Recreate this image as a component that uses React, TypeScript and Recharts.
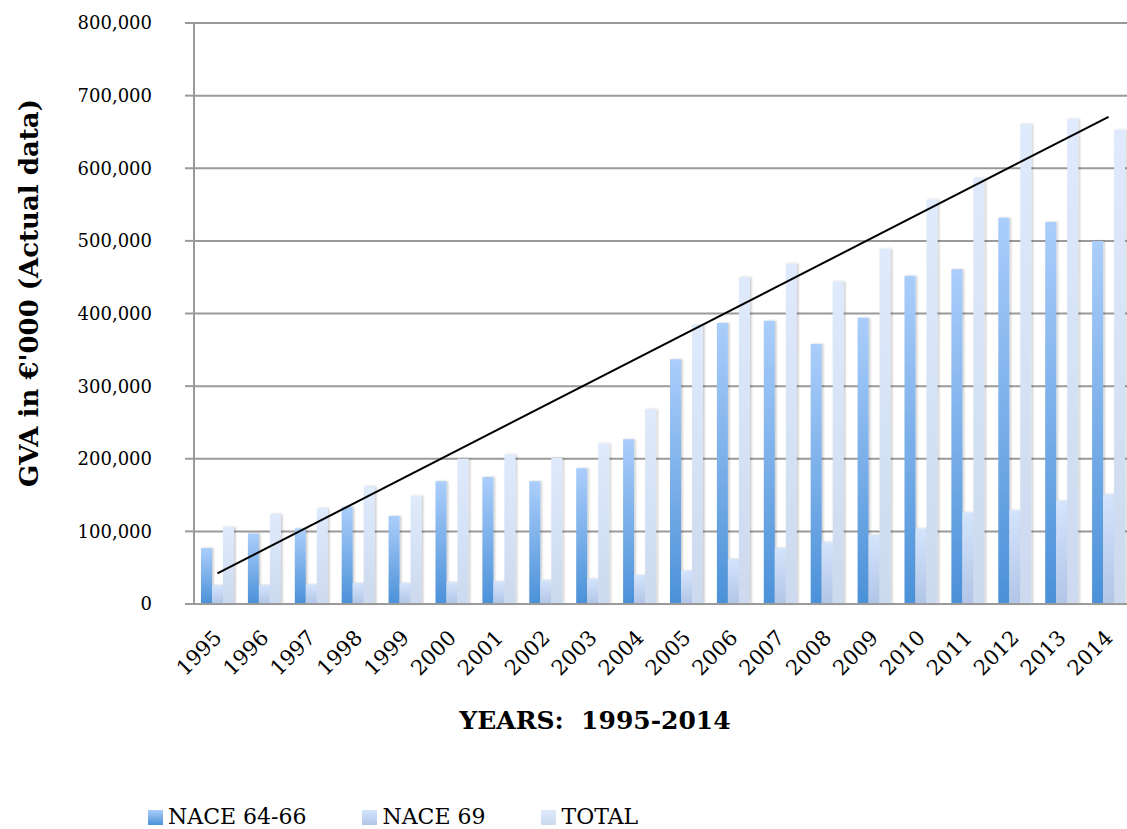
import { Bar, CartesianGrid, ComposedChart, Line, XAxis, YAxis } from "recharts";

const years = [
  "1995", "1996", "1997", "1998", "1999", "2000", "2001", "2002", "2003", "2004",
  "2005", "2006", "2007", "2008", "2009", "2010", "2011", "2012", "2013", "2014",
];

// GVA in €'000
const nace6466 = [
  77000, 97000, 104000, 134000, 121000, 169000, 175000, 169000, 187000, 227000,
  337000, 387000, 390000, 358000, 394000, 452000, 461000, 532000, 526000, 500000,
];
const nace69 = [
  26000, 26000, 27000, 29000, 29000, 30000, 31000, 33000, 35000, 40000,
  46000, 62000, 77000, 85000, 95000, 104000, 126000, 129000, 142000, 151000,
];
const total = [
  106000, 124000, 132000, 162000, 149000, 200000, 206000, 201000, 221000, 268000,
  384000, 450000, 469000, 444000, 489000, 557000, 587000, 661000, 668000, 653000,
];

const yTicks = [0, 100000, 200000, 300000, 400000, 500000, 600000, 700000, 800000];

const series = [
  { key: "nace6466", name: "NACE 64-66", top: "#abcefb", bottom: "#4b91d8" },
  { key: "nace69", name: "NACE 69", top: "#d3e4fc", bottom: "#b1c5e7" },
  { key: "total", name: "TOTAL", top: "#dfeafc", bottom: "#ccd9ee" },
];

const FONT = "'DejaVu Serif', serif";

// linear trend of TOTAL (least squares over the year index)
const n = total.length;
const meanX = (n - 1) / 2;
const meanY = total.reduce((s, v) => s + v, 0) / n;
const slope =
  total.reduce((s, v, i) => s + (i - meanX) * (v - meanY), 0) /
  total.reduce((s, _v, i) => s + (i - meanX) ** 2, 0);
const intercept = meanY - slope * meanX;

const data = years.map((year, i) => ({
  year,
  nace6466: nace6466[i],
  nace69: nace69[i],
  total: total[i],
  trend: i === 0 || i === n - 1 ? intercept + slope * i : null,
}));

const edgeTicks = years.map((_y, i) => i).concat(years.length);

function YearTick({ x, y, payload }: any) {
  const ax = x + 5.5;
  const ay = y + 35;
  return (
    <text
      x={ax}
      y={ay}
      transform={`rotate(-45 ${ax} ${ay})`}
      textAnchor="end"
      fontFamily={FONT}
      fontSize={21}
      fill="#000"
    >
      {payload.value}
    </text>
  );
}

export default function App() {
  return (
    <div
      style={{
        position: "absolute",
        left: 0,
        top: 0,
        width: 1127,
        height: 829,
        overflow: "hidden",
        background: "#fff",
        fontFamily: FONT,
      }}
    >
      <ComposedChart
        width={1140}
        height={700}
        data={data}
        margin={{ top: 23, right: 8, left: 0, bottom: 0 }}
        barCategoryGap="16%"
        barGap={0}
      >
        <defs>
          {series.map((s) => (
            <linearGradient key={s.key} id={`grad-${s.key}`} x1="0" y1="0" x2="0" y2="1">
              <stop offset="0%" stopColor={s.top} />
              <stop offset="100%" stopColor={s.bottom} />
            </linearGradient>
          ))}
          <filter id="barShadow" x="-30%" y="-5%" width="160%" height="110%">
            <feDropShadow dx="1.5" dy="0" stdDeviation="1.2" floodColor="#000" floodOpacity="0.22" />
          </filter>
        </defs>
        <CartesianGrid vertical={false} stroke="#9a9a9a" strokeWidth={2} />
        <XAxis
          xAxisId="edges"
          type="number"
          domain={[0, years.length]}
          ticks={edgeTicks}
          tick={false}
          tickSize={8}
          height={0}
          axisLine={false}
          stroke="#9a9a9a"
          strokeWidth={2}
          allowDataOverflow
        />
        <XAxis
          dataKey="year"
          interval={0}
          tickLine={false}
          tickSize={0}
          tickMargin={0}
          height={96}
          axisLine={{ stroke: "#9a9a9a", strokeWidth: 2 }}
          tick={<YearTick />}
        />
        <YAxis
          width={194}
          domain={[0, 800000]}
          ticks={yTicks}
          interval={0}
          tickFormatter={(v: number) => v.toLocaleString("en-US")}
          tickSize={9}
          tickMargin={33}
          axisLine={{ stroke: "#9a9a9a", strokeWidth: 2 }}
          tickLine={{ stroke: "#9a9a9a", strokeWidth: 2 }}
          tick={{ fill: "#000", fontFamily: FONT, fontSize: 18 }}
        />
        {series.map((s) => (
          <Bar
            key={s.key}
            dataKey={s.key}
            name={s.name}
            fill={`url(#grad-${s.key})`}
            filter="url(#barShadow)"
            barSize={11}
            isAnimationActive={false}
          />
        ))}
        <Line
          dataKey="trend"
          stroke="#000"
          strokeWidth={2}
          dot={false}
          connectNulls
          legendType="none"
          isAnimationActive={false}
        />
      </ComposedChart>

      <div
        style={{
          position: "absolute",
          left: 29,
          top: 293,
          transform: "translate(-50%, -50%) rotate(-90deg)",
          whiteSpace: "nowrap",
          fontWeight: 700,
          fontSize: 26,
          lineHeight: "28px",
          color: "#000",
        }}
      >
        GVA in €'000 (Actual data)
      </div>

      <div
        style={{
          position: "absolute",
          left: 595,
          top: 706,
          transform: "translateX(-50%)",
          whiteSpace: "pre",
          fontWeight: 700,
          fontSize: 25,
          lineHeight: "30px",
          color: "#000",
        }}
      >
        {"YEARS:  1995-2014"}
      </div>

      <div
        style={{
          position: "absolute",
          left: 148,
          top: 804,
          display: "flex",
          alignItems: "center",
          gap: 56,
          fontSize: 22,
          lineHeight: "26px",
          color: "#000",
        }}
      >
        {series.map((s) => (
          <div key={s.key} style={{ display: "flex", alignItems: "center" }}>
            <span
              style={{
                display: "inline-block",
                width: 15,
                height: 15,
                marginRight: 5,
                background: `linear-gradient(to bottom, ${s.top}, ${s.bottom})`,
              }}
            />
            <span>{s.name}</span>
          </div>
        ))}
      </div>
    </div>
  );
}
